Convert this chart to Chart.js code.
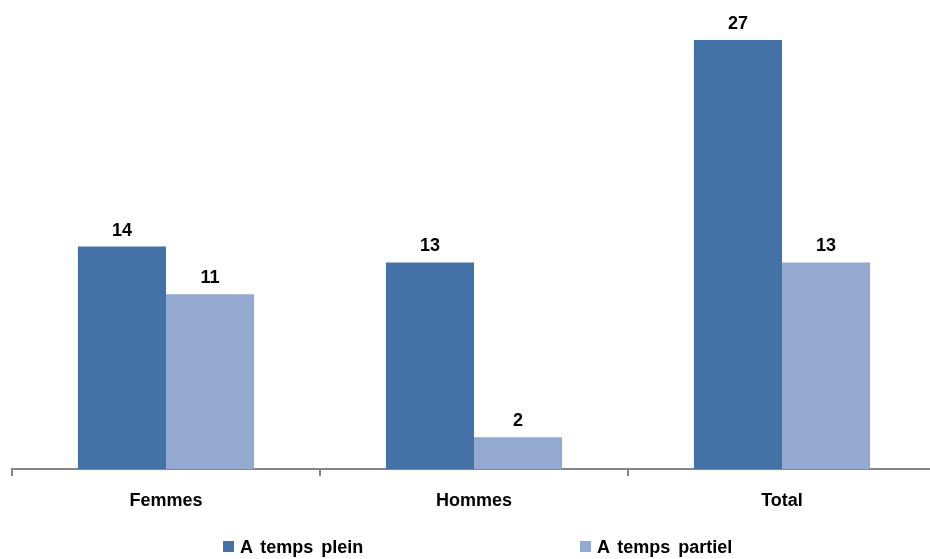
<!DOCTYPE html>
<html>
<head>
<meta charset="utf-8">
<script src="https://cdn.jsdelivr.net/npm/chart.js@4"></script>
<style>
  html, body { margin: 0; padding: 0; background: #fff; }
  #wrap { position: relative; width: 930px; height: 559px; overflow: hidden; }
  #box { position: absolute; left: 0; top: 0; width: 936px; height: 559px; }
  #legend { position: absolute; top: 537px; left: 0; width: 930px; font: bold 18px "Liberation Sans", Arial, sans-serif; color: #000; word-spacing: 3px; }
  .item { position: absolute; top: 0; white-space: nowrap; }
  .sw { display: inline-block; width: 11px; height: 11px; margin-right: 6px; vertical-align: 1px; }
</style>
</head>
<body>
<div id="wrap">
  <div id="box"><canvas id="chart"></canvas></div>
  <div id="legend"></div>
</div>
<script>
const categories = ["Femmes", "Hommes", "Total"];
const seriesNames = ["A temps plein", "A temps partiel"];
const pleinValues = [14, 13, 27];
const partielValues = [11, 2, 13];
const seriesColors = ["#4472A7", "#94A9D0"];

const FONT = "'Liberation Sans', Arial, sans-serif";

// value labels drawn above each bar
const barLabels = {
  id: "barLabels",
  afterDatasetsDraw(chart) {
    const ctx = chart.ctx;
    ctx.save();
    ctx.font = "bold 18px " + FONT;
    ctx.fillStyle = "#000";
    ctx.textAlign = "center";
    ctx.textBaseline = "bottom";
    chart.data.datasets.forEach((ds, i) => {
      chart.getDatasetMeta(i).data.forEach((bar, j) => {
        ctx.fillText(String(ds.data[j]), bar.x, bar.y - 7);
      });
    });
    ctx.restore();
  },
};

new Chart(document.getElementById("chart"), {
  type: "bar",
  data: {
    labels: categories,
    datasets: [
      { label: seriesNames[0], data: pleinValues, backgroundColor: seriesColors[0] },
      { label: seriesNames[1], data: partielValues, backgroundColor: seriesColors[1] },
    ],
  },
  options: {
    responsive: true,
    maintainAspectRatio: false,
    animation: false,
    events: [],
    layout: { padding: { left: 12, right: 0, top: 40, bottom: 0 } },
    datasets: { bar: { categoryPercentage: 0.572, barPercentage: 1 } },
    plugins: { legend: { display: false }, tooltip: { enabled: false } },
    scales: {
      x: {
        offset: true,
        grid: { display: true, drawOnChartArea: false, drawTicks: true, tickLength: 7, color: "#868686", lineWidth: 2, offset: true },
        border: { display: true, color: "#868686", width: 2 },
        ticks: { color: "#000", font: { family: FONT, size: 18, weight: "bold" }, padding: 14 },
        afterFit(axis) { axis.height = 90; },
      },
      y: { display: false, min: 0, max: 27 },
    },
  },
  plugins: [barLabels],
});

// legend below the axis
const legend = document.getElementById("legend");
const legendLeft = [223, 580];
seriesNames.forEach((name, i) => {
  const it = document.createElement("div");
  it.className = "item";
  it.style.left = legendLeft[i] + "px";
  it.innerHTML = '<span class="sw" style="background:' + seriesColors[i] + '"></span>' + name;
  legend.appendChild(it);
});
</script>
</body>
</html>
